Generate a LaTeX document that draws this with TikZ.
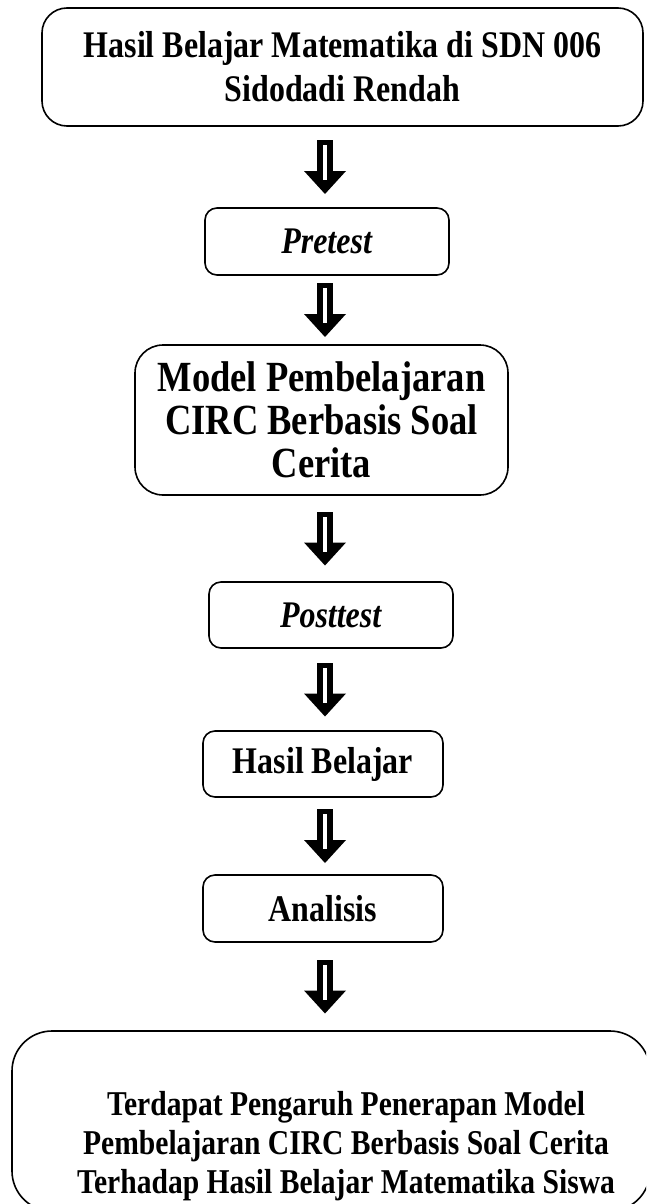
\documentclass[tikz,border=0pt]{standalone}
\usepackage{fontspec}
\setmainfont{Liberation Serif}[FakeStretch=0.85]
\usetikzlibrary{calc}

\tikzset{
  kotak/.style={draw, line width=1.6pt, rounded corners=12pt, align=center,
    inner sep=0pt, font=\bfseries\fontsize{37.6}{44}\selectfont},
}

% panah tebal ke bawah di antara dua kotak
\newcommand{\panah}[2]{%
  \coordinate (p0) at ($(#1.south)!0.5!(#2.north)$);
  \coordinate (p) at (poros |- p0);
  \fill ($(p)+(-8,-27)$) rectangle ($(p)+(8,5)$);
  \fill ($(p)+(-21,4)$) -- ($(p)+(21,4)$) -- ($(p)+(0,27)$) -- cycle;
  \fill[white] ($(p)+(-2,-22)$) rectangle ($(p)+(2,13)$);
}

\begin{document}
\begin{tikzpicture}[x=1pt, y=-1pt]
	\useasboundingbox (0,0) rectangle (646,1204);
	\clip (0,0) rectangle (646,1204);
	\coordinate (poros) at (325,0);

	\node[kotak, rounded corners=25pt, minimum width=601pt, minimum height=118pt] (awal) at (342.5,67)
		{\raisebox{-3pt}{Hasil Belajar Matematika di SDN 006}\\\raisebox{-3pt}{Sidodadi Rendah}};
	\node[kotak, minimum width=244pt, minimum height=67pt] (pretest) at (327,241.5) {\textit{Pretest}};
	\node[kotak, rounded corners=28pt, minimum width=373pt, minimum height=150pt,
		font=\bfseries\fontsize{43}{43}\selectfont] (model) at (321.5,420)
		{\raisebox{-9pt}{Model Pembelajaran}\\\raisebox{-9pt}{CIRC Berbasis Soal}\\\raisebox{-9pt}{Cerita}};
	\node[kotak, minimum width=244pt, minimum height=66pt] (posttest) at (331,615) {\textit{Posttest}};
	\node[kotak, minimum width=240pt, minimum height=66pt] (hasil) at (323,764) {Hasil Belajar};
	\node[kotak, minimum width=240pt, minimum height=67pt] (analisis) at (323,908.5) {Analisis};
	\node[kotak, rounded corners=40pt, minimum width=638pt, minimum height=180pt] (kesimpulan) at (331,1121) {};
	\node[align=center, font=\bfseries\fontsize{34.8}{39}\selectfont] (teks) at (346,1146)
		{Terdapat Pengaruh Penerapan Model\\Pembelajaran CIRC Berbasis Soal Cerita\\Terhadap Hasil Belajar Matematika Siswa};

	\panah{awal}{pretest}
	\panah{pretest}{model}
	\panah{model}{posttest}
	\panah{posttest}{hasil}
	\panah{hasil}{analisis}
	\panah{analisis}{kesimpulan}
\end{tikzpicture}
\end{document}
